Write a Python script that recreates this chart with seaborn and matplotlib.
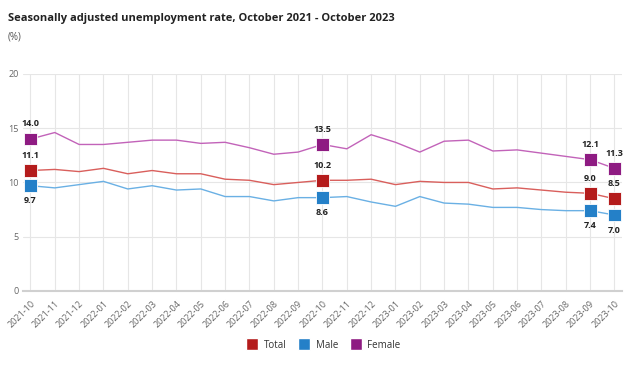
import matplotlib
matplotlib.use("Agg")
import matplotlib.pyplot as plt
import seaborn as sns
import pandas as pd
import numpy as np

months = ["2021-10", "2021-11", "2021-12", "2022-01", "2022-02", "2022-03", "2022-04",
          "2022-05", "2022-06", "2022-07", "2022-08", "2022-09", "2022-10", "2022-11",
          "2022-12", "2023-01", "2023-02", "2023-03", "2023-04", "2023-05", "2023-06",
          "2023-07", "2023-08", "2023-09", "2023-10"]
total = [11.1, 11.2, 11.0, 11.3, 10.8, 11.1, 10.8, 10.8, 10.3, 10.2, 9.8, 10.0, 10.2,
         10.2, 10.3, 9.8, 10.1, 10.0, 10.0, 9.4, 9.5, 9.3, 9.1, 9.0, 8.5]
male = [9.7, 9.5, 9.8, 10.1, 9.4, 9.7, 9.3, 9.4, 8.7, 8.7, 8.3, 8.6, 8.6,
        8.7, 8.2, 7.8, 8.7, 8.1, 8.0, 7.7, 7.7, 7.5, 7.4, 7.4, 7.0]
female = [14.0, 14.6, 13.5, 13.5, 13.7, 13.9, 13.9, 13.6, 13.7, 13.2, 12.6, 12.8, 13.5,
          13.1, 14.4, 13.7, 12.8, 13.8, 13.9, 12.9, 13.0, 12.7, 12.4, 12.1, 11.3]
highlight = ["2021-10", "2022-10", "2023-09", "2023-10"]

series = {"Total": total, "Male": male, "Female": female}
marker_colors = {"Total": "#B41C1C", "Male": "#2480C8", "Female": "#8E1B82"}
line_colors = {"Total": "#D95F5C", "Male": "#6AB0E4", "Female": "#C263B9"}

df = pd.DataFrame({"month": months, **series})
df["pos"] = np.arange(len(months))
long = df.melt(id_vars=["month", "pos"], var_name="series", value_name="rate")

sns.set_style("white")
plt.rcParams["font.family"] = ["Open Sans", "DejaVu Sans"]

fig = plt.figure(figsize=(6.43, 3.66), dpi=100)
ax = fig.add_axes([0.036, 0.205, 0.931, 0.593])

sns.lineplot(data=long, x="pos", y="rate", hue="series", palette=line_colors,
             linewidth=1.0, legend=False, ax=ax, zorder=2)

hl = long[long["month"].isin(highlight)]
sns.scatterplot(data=hl, x="pos", y="rate", hue="series", palette=marker_colors,
                marker="s", s=85, edgecolor="white", linewidth=0.6, legend=False,
                ax=ax, zorder=3)

# value labels: Male below, others above
for _, r in hl.iterrows():
    dy = -11 if r["series"] == "Male" else 11
    ax.annotate(f"{r['rate']:.1f}", (r["pos"], r["rate"]), xytext=(0, dy),
                textcoords="offset points", ha="center", va="center",
                fontsize=6.5, fontweight="bold", color="#222222")

ax.set_xlim(-0.3, len(months) - 1 + 0.3)
ax.set_ylim(0, 20)
ax.set_yticks([0, 5, 10, 15, 20])
ax.set_xticks(df["pos"])
ax.set_xticklabels(months, rotation=45, ha="right", rotation_mode="anchor")
ax.tick_params(axis="both", labelsize=6.5, labelcolor="#666666", colors="#cccccc",
               length=4, width=0.8)
ax.tick_params(axis="y", length=0, pad=3)
ax.tick_params(axis="x", pad=2)
ax.grid(True, color="#e6e6e6", linewidth=0.8)
ax.set_axisbelow(True)
for side in ["top", "right", "left"]:
    ax.spines[side].set_visible(False)
ax.spines["bottom"].set_color("#d0d0d0")
ax.spines["bottom"].set_linewidth(1.5)
ax.set_xlabel("")
ax.set_ylabel("")

# title and unit
fig.text(0.012, 0.95, "Seasonally adjusted unemployment rate, October 2021 - October 2023",
         fontsize=8, fontweight="bold", color="#222222", va="center")
fig.text(0.012, 0.898, "(%)", fontsize=7, color="#555555", va="center")

handles = [plt.Line2D([], [], marker="s", linestyle="", markersize=8.5,
                      markerfacecolor=marker_colors[k], markeredgecolor="white",
                      label=k) for k in series]
fig.legend(handles=handles, loc="center", bbox_to_anchor=(0.5, 0.057), ncol=3,
           frameon=False, fontsize=7, handletextpad=0.2, columnspacing=0.8,
           labelcolor="#333333")

fig.savefig("out.png", dpi=100)
